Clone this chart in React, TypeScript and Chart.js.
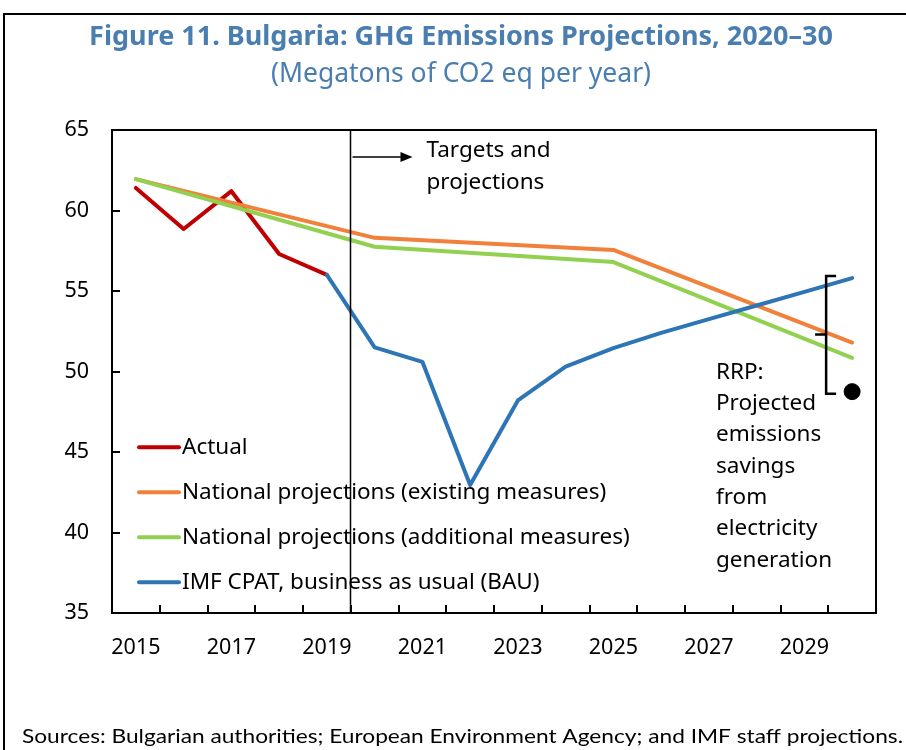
import React, { useEffect, useRef } from 'react';
import { Chart, registerables } from 'chart.js';

Chart.register(...registerables);

const years = ['2015', '2016', '2017', '2018', '2019', '2020', '2021', '2022', '2023', '2024', '2025', '2026', '2027', '2028', '2029', '2030'];
const xTickLabels = ['2015', '2017', '2019', '2021', '2023', '2025', '2027', '2029'];
const yTicks = [35, 40, 45, 50, 55, 60, 65];

const actual = [61.4, 58.85, 61.2, 57.3, 56.0, null, null, null, null, null, null, null, null, null, null, null];
const existingMeasures = [61.95, null, null, null, null, 58.3, null, null, null, null, 57.55, null, null, null, null, 51.8];
const additionalMeasures = [61.95, null, null, null, null, 57.75, null, null, null, null, 56.8, null, null, null, null, 50.85];
const imfBau = [null, null, null, null, 56.0, 51.5, 50.6, 42.95, 48.2, 50.3, 51.45, 52.4, 53.25, 54.1, 54.95, 55.8];
const rrp = [null, null, null, null, null, null, null, null, null, null, null, null, null, null, null, 48.75];

const seriesNames = [
  'Actual',
  'National projections (existing measures)',
  'National projections (additional measures)',
  'IMF CPAT, business as usual (BAU)',
];
const seriesColors = ['#C00000', '#F0803A', '#92D050', '#2E75B6'];

const titleText = 'Figure 11. Bulgaria: GHG Emissions Projections, 2020\u201330';
const subtitleText = '(Megatons of CO2 eq per year)';
const sourceText = 'Sources: Bulgarian authorities; European Environment Agency; and IMF staff projections.';
const targetsText = ['Targets and', 'projections'];
const rrpText = ['RRP:', 'Projected', 'emissions', 'savings', 'from', 'electricity', 'generation'];

const FONT = '"Noto Sans", "Open Sans", sans-serif';
const TITLE_COLOR = '#4A7EB0';
const TEXT_SIZE = 22.5;

const decorPlugin = {
  id: 'figureDecor',
  afterDraw(chart: any) {
    const { ctx, chartArea: a, scales } = chart;
    const xs = scales.x;
    const ys = scales.y;
    const step = xs.getPixelForValue(1) - xs.getPixelForValue(0);
    ctx.save();

    // outer frame
    ctx.strokeStyle = '#000';
    ctx.lineWidth = 2;
    ctx.beginPath();
    ctx.moveTo(4, 800);
    ctx.lineTo(4, 14);
    ctx.lineTo(1000, 14);
    ctx.stroke();

    // titles
    ctx.fillStyle = TITLE_COLOR;
    ctx.textAlign = 'center';
    ctx.textBaseline = 'middle';
    ctx.font = `bold 27px ${FONT}`;
    ctx.fillText(titleText, 461, 37);
    ctx.font = `26.5px ${FONT}`;
    ctx.fillText(subtitleText, 461, 74);

    // plot box
    ctx.strokeStyle = '#000';
    ctx.lineWidth = 2;
    ctx.strokeRect(a.left, a.top, a.right - a.left, a.bottom - a.top);

    // y ticks (inside)
    ctx.beginPath();
    yTicks.forEach((v) => {
      const py = Math.round(ys.getPixelForValue(v));
      ctx.moveTo(a.left, py);
      ctx.lineTo(a.left + 8, py);
    });
    // x ticks (inside) at category boundaries
    for (let i = 1; i < years.length; i++) {
      const px = Math.round(xs.getPixelForValue(i) - step / 2);
      ctx.moveTo(px, a.bottom);
      ctx.lineTo(px, a.bottom - 8);
    }
    ctx.stroke();

    // vertical divider between 2019 and 2020
    const divX = Math.round(xs.getPixelForValue(years.indexOf('2020')) - step / 2) - 0.5;
    ctx.lineWidth = 1.5;
    ctx.beginPath();
    ctx.moveTo(divX, a.top);
    ctx.lineTo(divX, a.bottom);
    ctx.stroke();

    // arrow
    const ay = a.top + 27;
    ctx.lineWidth = 1.5;
    ctx.beginPath();
    ctx.moveTo(divX + 2, ay);
    ctx.lineTo(divX + 52, ay);
    ctx.stroke();
    ctx.fillStyle = '#000';
    ctx.beginPath();
    ctx.moveTo(divX + 62, ay);
    ctx.lineTo(divX + 50, ay - 5);
    ctx.lineTo(divX + 50, ay + 5);
    ctx.closePath();
    ctx.fill();

    ctx.textAlign = 'left';
    ctx.font = `${TEXT_SIZE}px ${FONT}`;
    ctx.fillText(targetsText[0], divX + 76, a.top + 21);
    ctx.fillText(targetsText[1], divX + 76, a.top + 53);

    // bracket near 2030
    const last = years.length - 1;
    const x2030 = xs.getPixelForValue(last);
    const bx = x2030 - 26;
    const bTop = ys.getPixelForValue(imfBau[last] as number) - 2;
    const bBot = ys.getPixelForValue(rrp[last] as number) + 2;
    ctx.lineWidth = 2.5;
    ctx.beginPath();
    ctx.moveTo(bx + 10, bTop);
    ctx.lineTo(bx, bTop);
    ctx.lineTo(bx, bBot);
    ctx.lineTo(bx + 10, bBot);
    const mid = ys.getPixelForValue(52.3);
    ctx.moveTo(bx - 11, mid);
    ctx.lineTo(bx, mid);
    ctx.stroke();

    // RRP text
    ctx.fillStyle = '#000';
    rrpText.forEach((t, i) => {
      ctx.fillText(t, a.right - 160, ys.getPixelForValue(49.95) + i * 31.3);
    });

    // legend
    const legendTop = ys.getPixelForValue(45.3);
    seriesNames.forEach((name, i) => {
      const ly = legendTop + i * 45;
      ctx.strokeStyle = seriesColors[i];
      ctx.lineWidth = 4;
      ctx.lineCap = 'round';
      ctx.beginPath();
      ctx.moveTo(a.left + 27, ly);
      ctx.lineTo(a.left + 67, ly);
      ctx.stroke();
      ctx.fillStyle = '#000';
      ctx.fillText(name, a.left + 70, ly);
    });

    // sources
    ctx.font = `20px Lato, ${FONT}`;
    const w = ctx.measureText(sourceText).width;
    const target = 881;
    ctx.save();
    ctx.translate(22, 737);
    ctx.scale(target / w, 1);
    ctx.fillStyle = '#000';
    ctx.textAlign = 'left';
    ctx.fillText(sourceText, 0, 0);
    ctx.restore();

    ctx.restore();
  },
};

export default function App() {
  const canvasRef = useRef<HTMLCanvasElement | null>(null);

  useEffect(() => {
    document.body.style.margin = '0';
    const canvas = canvasRef.current;
    if (!canvas) return;
    const mk = (label: string, data: any[], color: string, order: number) => ({
      label,
      data,
      borderColor: color,
      backgroundColor: color,
      borderWidth: 4,
      pointRadius: 0,
      pointHoverRadius: 0,
      spanGaps: true,
      tension: 0,
      order,
      borderCapStyle: 'round' as const,
      borderJoinStyle: 'round' as const,
    });
    const chart = new Chart(canvas, {
      type: 'line',
      data: {
        labels: years,
        datasets: [
          mk(seriesNames[0], actual, seriesColors[0], 4),
          mk(seriesNames[1], existingMeasures, seriesColors[1], 3),
          mk(seriesNames[2], additionalMeasures, seriesColors[2], 2),
          mk(seriesNames[3], imfBau, seriesColors[3], 1),
          {
            label: 'RRP',
            data: rrp,
            borderColor: '#000',
            backgroundColor: '#000',
            showLine: false,
            pointRadius: 8,
            pointHoverRadius: 8,
            order: 0,
          },
        ],
      },
      options: {
        responsive: false,
        animation: false,
        devicePixelRatio: 1,
        events: [],
        layout: { padding: { left: 32, top: 130, right: 30, bottom: 77 } },
        plugins: {
          legend: { display: false },
          title: { display: false },
          tooltip: { enabled: false },
        },
        scales: {
          x: {
            type: 'category',
            offset: true,
            grid: { display: false, drawTicks: false },
            border: { display: false },
            afterFit: (s: any) => { s.height = 60; },
            ticks: {
              autoSkip: false,
              maxRotation: 0,
              padding: 22,
              color: '#000',
              font: { family: FONT, size: 21.5 },
              callback: (_v: any, idx: number) => (xTickLabels.includes(years[idx]) ? years[idx] : ''),
            },
          },
          y: {
            type: 'linear',
            min: 35,
            max: 65,
            afterFit: (s: any) => { s.width = 80; },
            afterBuildTicks: (s: any) => { s.ticks = yTicks.map((v) => ({ value: v })); },
            grid: { display: false, drawTicks: false },
            border: { display: false },
            ticks: {
              padding: 23,
              color: '#000',
              font: { family: FONT, size: 21.5 },
            },
          },
        },
      },
      plugins: [decorPlugin],
    });
    return () => chart.destroy();
  }, []);

  return (
    <div style={{ position: 'absolute', left: 0, top: 0, width: 906, height: 750, background: '#fff' }}>
      <canvas ref={canvasRef} width={906} height={750} />
    </div>
  );
}
